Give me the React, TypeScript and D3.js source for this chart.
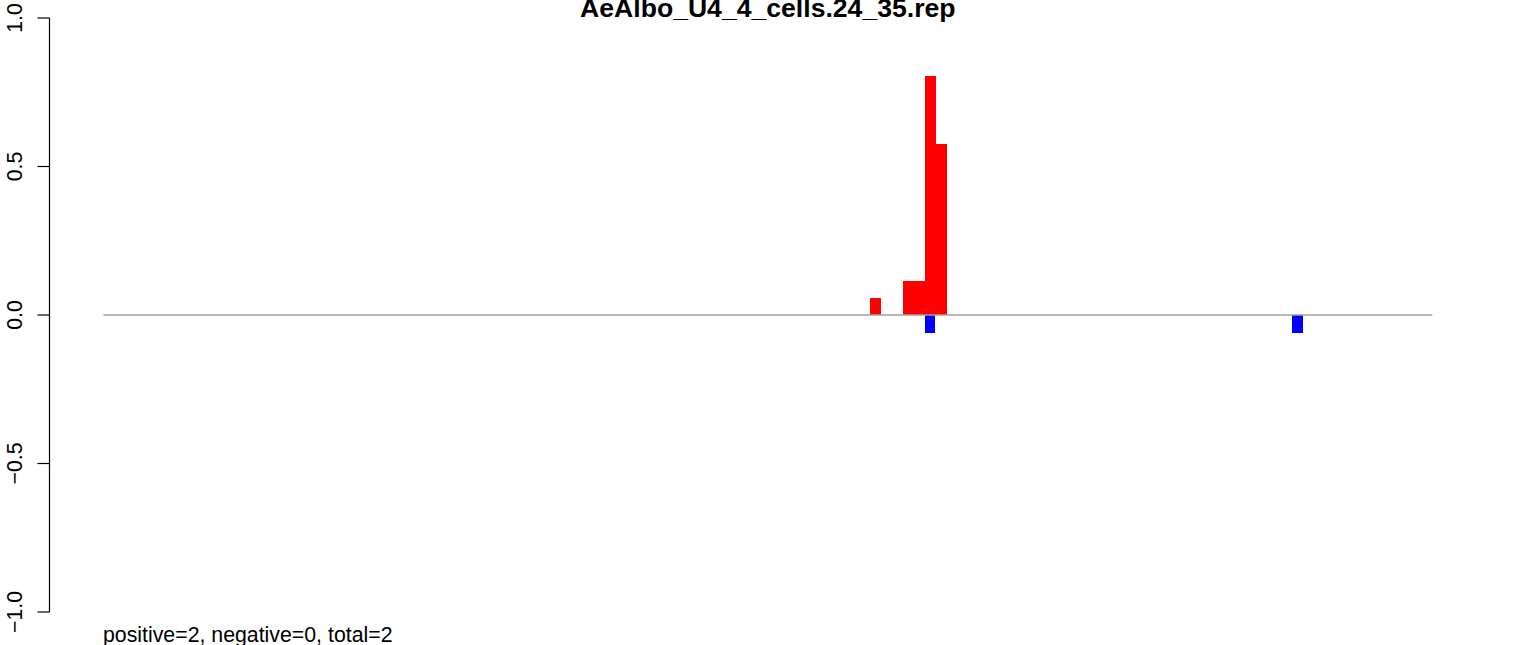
import React from "react";
import * as d3 from "d3";

const title = "AeAlbo_U4_4_cells.24_35.rep";
const footer = "positive=2, negative=0, total=2";
const yTicks = [-1.0, -0.5, 0.0, 0.5, 1.0];
const xDomain = [0, 1225];
const binWidth = 10;
const posStarts = [707, 737, 747, 757, 767];
const posValues = [0.057, 0.114, 0.114, 0.805, 0.576];
const negStarts = [757, 1096];
const negValues = [-0.059, -0.059];

const W = 1536;
const H = 645;

export default function App() {
  const x = d3.scaleLinear().domain(xDomain).range([103.3, 1432.3]);
  const y = d3.scaleLinear().domain([-1, 1]).range([612, 18]);
  const axisX = 49.5;
  const font = "Liberation Sans, Arial, Helvetica, sans-serif";

  return (
    <svg
      width={W}
      height={H}
      style={{ position: "absolute", left: 0, top: 0, background: "#fff" }}
    >
      <rect x={0} y={0} width={W} height={H} fill="#fff" />
      <text
        x={(x(xDomain[0]) + x(xDomain[1])) / 2}
        y={17}
        textAnchor="middle"
        fontFamily={font}
        fontWeight="bold"
        fontSize={26.6}
        fill="#000"
      >
        {title}
      </text>
      {posStarts.map((s, i) => (
        <rect
          key={"p" + i}
          x={x(s)}
          y={y(posValues[i])}
          width={x(s + binWidth) - x(s) + 0.3}
          height={y(0) - y(posValues[i])}
          fill="#ff0000"
          shapeRendering="crispEdges"
        />
      ))}
      {negStarts.map((s, i) => (
        <rect
          key={"n" + i}
          x={x(s)}
          y={y(0)}
          width={x(s + binWidth) - x(s)}
          height={y(negValues[i]) - y(0)}
          fill="#0000ff"
          shapeRendering="crispEdges"
        />
      ))}
      <line
        x1={x(xDomain[0])}
        x2={x(xDomain[1])}
        y1={y(0)}
        y2={y(0)}
        stroke="#a0a0a0"
        strokeWidth={1.5}
      />
      <line x1={axisX} x2={axisX} y1={y(1)} y2={y(-1)} stroke="#000" strokeWidth={1.2} />
      {yTicks.map((t) => (
        <g key={t}>
          <line x1={axisX - 12} x2={axisX} y1={y(t)} y2={y(t)} stroke="#000" strokeWidth={1.2} />
          <text
            transform={`translate(22,${y(t)}) rotate(-90)`}
            textAnchor="middle"
            fontFamily={font}
            fontSize={21.3}
            fill="#000"
          >
            {t.toFixed(1).replace("-", "\u2212")}
          </text>
        </g>
      ))}
      <text x={103} y={641.5} fontFamily={font} fontSize={21.3} fill="#000">
        {footer}
      </text>
    </svg>
  );
}
